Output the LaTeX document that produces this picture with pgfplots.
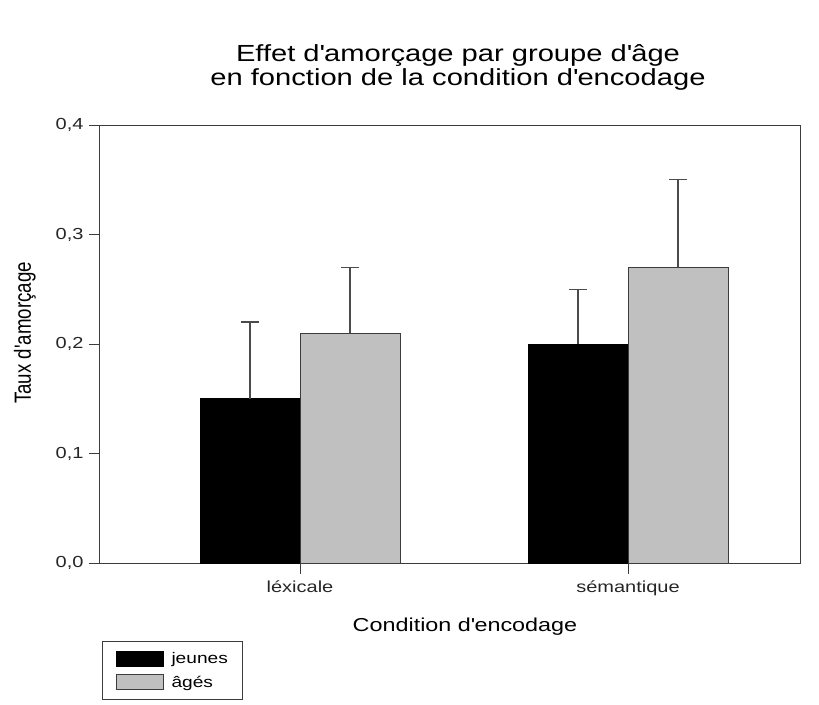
\documentclass[border=0pt]{standalone}
\usepackage{graphicx}
\usepackage{fontspec}
\setmainfont[FakeStretch=1.25]{Liberation Sans}
\newfontfamily\plainsans{Liberation Sans}
\usepackage{pgfplots}
\pgfplotsset{compat=1.18}
\definecolor{agegray}{RGB}{192,192,192}
\definecolor{errgray}{RGB}{75,75,75}
\definecolor{framegray}{RGB}{60,60,60}
\newcommand{\ap}{\textquotesingle}

\begin{document}
\begin{tikzpicture}
\begin{axis}[
  at={(0,0)}, anchor=south west,
  scale only axis, width=700pt, height=438pt,
  xmin=0.3902, xmax=2.5244, ymin=0, ymax=0.4,
  xtick={1,2}, xticklabels={léxicale, sémantique},
  ytick={0,0.1,0.2,0.3,0.4},
  tick align=outside, xtick pos=bottom, ytick pos=left,
  major tick length=11pt,
  axis line style={draw=framegray, line width=1pt},
  every tick/.style={draw=framegray, line width=1pt},
  ticklabel style={font=\fontsize{16}{18}\selectfont, text=black!85},
  xticklabel style={yshift=-3pt},
  yticklabel style={xshift=-2pt},
  /pgf/number format/.cd, use comma, fixed, fixed zerofill, precision=1, assume math mode=true,
  /pgfplots/.cd,
  ybar, bar width=100pt,
  legend style={at={(axis description cs:0.003,-0.178)}, anchor=north west,
    draw=framegray, line width=0.8pt, font=\fontsize{15.3}{17}\selectfont,
    inner xsep=13pt, inner ysep=9pt, row sep=7pt, cells={anchor=west}},
  legend image code/.code={\draw[#1] (0pt,-7.5pt) rectangle (47pt,7.5pt); \path (53pt,0pt);},
]
\addplot[bar shift=-50pt, fill=black, draw=black, line width=0.8pt,
  error bars/.cd, y dir=plus, y explicit,
  error bar style={draw=errgray, line width=1.3pt},
  error mark options={rotate=90, draw=errgray, line width=1.3pt, mark size=9pt}]
  coordinates {(1,0.15) +- (0,0.07) (2,0.20) +- (0,0.05)};
\addplot[bar shift=50pt, fill=agegray, draw=framegray, line width=1pt,
  error bars/.cd, y dir=plus, y explicit,
  error bar style={draw=errgray, line width=1.3pt},
  error mark options={rotate=90, draw=errgray, line width=1.3pt, mark size=9pt}]
  coordinates {(1,0.21) +- (0,0.06) (2,0.27) +- (0,0.08)};
\legend{jeunes, âgés}
\end{axis}
% titles and axis labels
\node[align=center, font=\fontsize{23.3}{24.5}\selectfont, anchor=base]
  at (358pt,477pt) {Effet d\ap amorçage par groupe d\ap âge\\en fonction de la condition d\ap encodage};
\node[font=\fontsize{18.7}{20}\selectfont] at (365pt,-64pt) {Condition d\ap encodage};
\node[rotate=90] at (-75pt,230pt)
  {\scalebox{1}[1.25]{\plainsans\fontsize{18.7}{20}\selectfont Taux d\ap amorçage}};
\pgfresetboundingbox
\path[use as bounding box] (-100pt,-141pt) rectangle (719pt,563pt);
\end{tikzpicture}
\end{document}
